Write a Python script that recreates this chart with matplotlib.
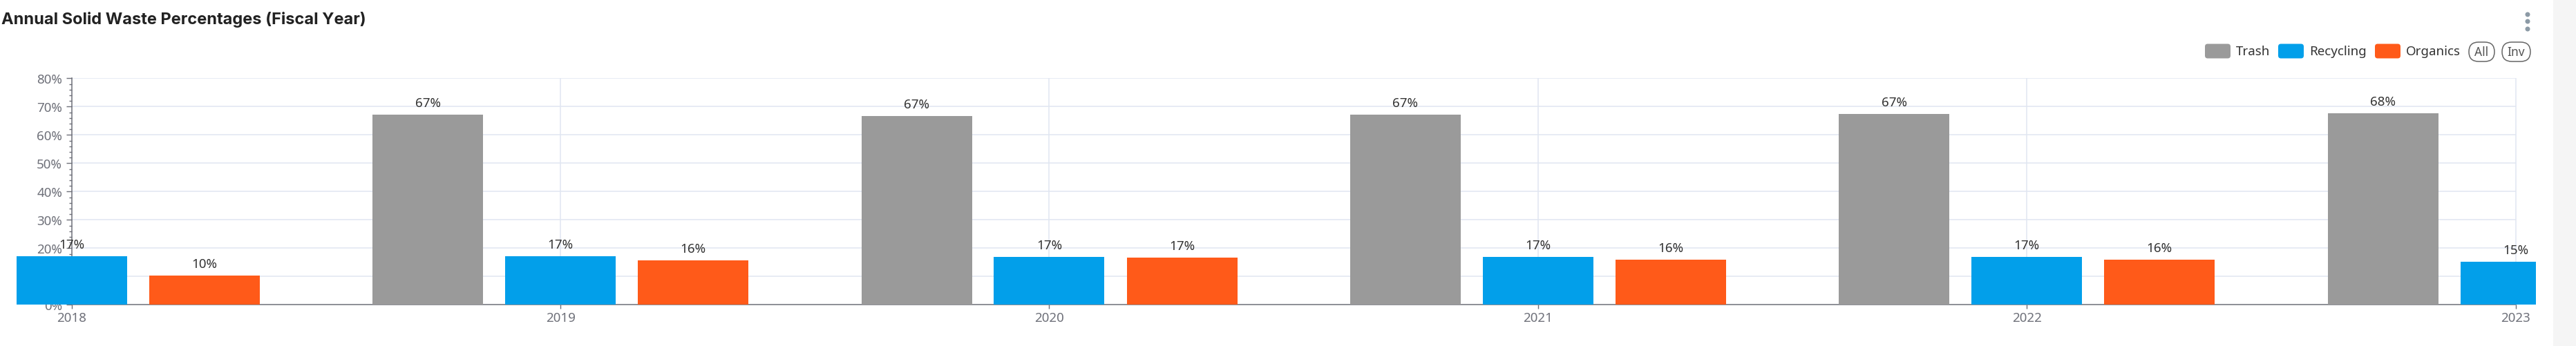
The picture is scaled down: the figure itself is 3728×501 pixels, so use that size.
import matplotlib
matplotlib.use("Agg")
import matplotlib.pyplot as plt
from matplotlib.patches import FancyBboxPatch, Rectangle, Circle
from matplotlib.ticker import MultipleLocator
import numpy as np

# data (percent of annual solid waste)
years = [2018, 2019, 2020, 2021, 2022, 2023]
series = ["Trash", "Recycling", "Organics"]
trash = [73.0, 67.2, 66.6, 67.2, 67.3, 67.6]
recycling = [17.2, 17.2, 16.8, 16.8, 17.0, 15.2]
organics = [10.4, 15.6, 16.7, 15.9, 15.9, 17.0]
y_ticks = [0, 10, 20, 30, 40, 50, 60, 70, 80]
y_tick_labels = [f"{v}%" for v in y_ticks]
colors = ["#9a9a9a", "#029fea", "#ff5a19"]
title = "Annual Solid Waste Percentages (Fiscal Year)"

plt.rcParams["font.family"] = ["Noto Sans", "DejaVu Sans"]

W, H = 3728, 502
fig = plt.figure(figsize=(W / 100, H / 100), dpi=100)

# overlay in pixel coords for the decorations (title bar, legend, menu)
ov = fig.add_axes([0, 0, 1, 1])
ov.set_xlim(0, W)
ov.set_ylim(H, 0)
ov.axis("off")

# plot area: axis runs 2018..2023, bars clipped a little beyond it
px_left, px_right, px_axis0, px_axis1 = 22.7, 3670, 103.7, 3640.7
px_top, px_base = 114.3, 442.3
per_year = (px_axis1 - px_axis0) / (years[-1] - years[0])
ax = fig.add_axes([px_left / W, (H - px_base) / H,
                   (px_right - px_left) / W, (px_base - px_top) / H])
ax.set_xlim(years[0] - (px_axis0 - px_left) / per_year,
            years[-1] + (px_right - px_axis1) / per_year)
ax.set_ylim(0, 80)

grid_c = "#e0e6f1"
axis_c = "#6e7079"
ax.hlines(y_ticks[1:], years[0], years[-1], color=grid_c, lw=1.1, zorder=0.5)
ax.vlines(years[1:], 0, y_ticks[-1], color=grid_c, lw=1.1, zorder=0.5)

bw = 160 / per_year
off = 192 / per_year
x = np.array(years, dtype=float)
for i, (vals, c) in enumerate(zip([trash, recycling, organics], colors)):
    xs = x + (i - 1) * off
    ax.bar(xs, vals, width=bw, color=c, linewidth=0, zorder=3)
    for xi, v in zip(xs, vals):
        ax.annotate(f"{v:.0f}%", (xi, v), xytext=(0, 12.2), textcoords="offset points",
                    ha="center", va="center", fontsize=13.5, color="#333333", zorder=4)

for s in ["top", "right"]:
    ax.spines[s].set_visible(False)
ax.spines["left"].set_position(("data", years[0]))
ax.spines["left"].set_bounds(0, 80)
ax.spines["bottom"].set_bounds(years[0], years[-1])
for s in ["left", "bottom"]:
    ax.spines[s].set_color(axis_c)
    ax.spines[s].set_linewidth(1.1)

ax.set_yticks(y_ticks)
ax.set_yticklabels(y_tick_labels)
ax.yaxis.set_minor_locator(MultipleLocator(2))
ax.set_xticks(years)
ax.set_xticklabels([str(y) for y in years])
ax.tick_params(axis="y", which="major", length=5.8, width=1, color=axis_c,
               labelcolor=axis_c, labelsize=13.5, pad=4)
ax.tick_params(axis="y", which="minor", length=3.2, width=1, color=axis_c)
ax.tick_params(axis="x", length=4.3, width=1, color=axis_c,
               labelcolor=axis_c, labelsize=13.5, pad=3)

# title
fig.text(2 / W, 1 - 28 / H, title, fontsize=17, fontweight="bold",
         family=["Inter", "DejaVu Sans"], color="#222222", va="center", ha="left")

# legend
sw_x = [3191, 3297, 3437]
for name, c, sx in zip(series, colors, sw_x):
    ov.add_patch(FancyBboxPatch((sx, 64.5), 37, 21, boxstyle="round,pad=0,rounding_size=4",
                                fc=c, ec="none"))
    ov.text(sx + 45, 75, name, fontsize=13.5, color="#333333", va="center", ha="left")
for lbl, px0, pw in [("All", 3573, 37), ("Inv", 3621, 41)]:
    ov.add_patch(FancyBboxPatch((px0, 62), pw, 28, boxstyle="round,pad=0,rounding_size=14",
                                fc="white", ec="#666666", lw=1.1))
    ov.text(px0 + pw / 2, 76, lbl, fontsize=12.5, color="#555555", va="center", ha="center")

# menu dots and right side panel
for dy in [22, 32, 43]:
    ov.add_patch(Circle((3658, dy), 2.8, color="#8c9aa6"))
ov.add_patch(Rectangle((3695, 0), W - 3695, H, color="#f5f5f5", lw=0))

fig.savefig("out.png", dpi=100)
